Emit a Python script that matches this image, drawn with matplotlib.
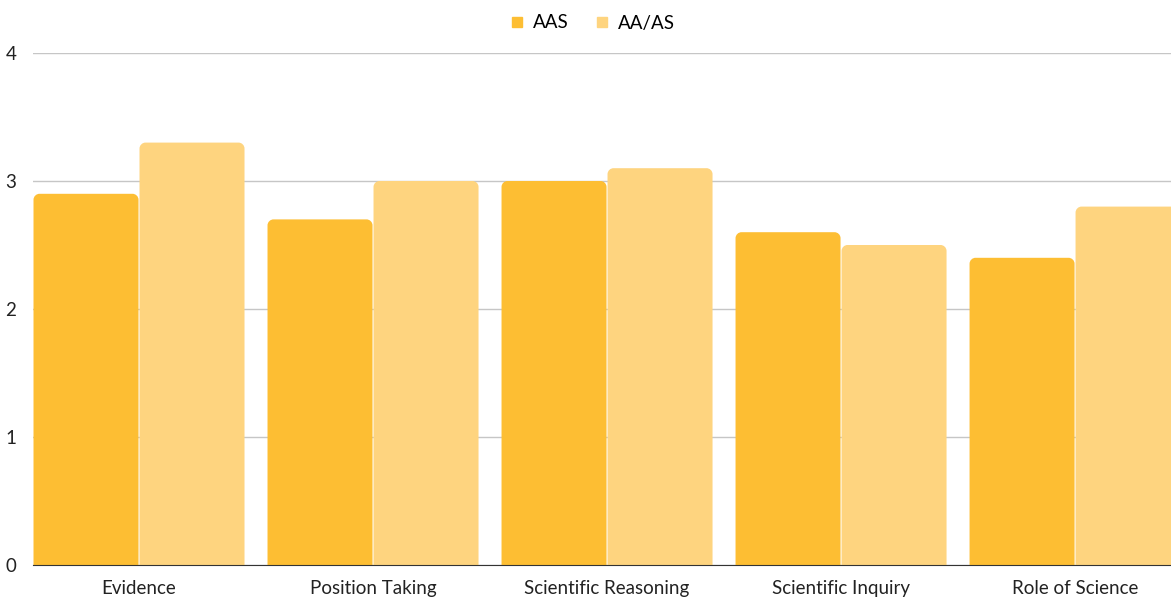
import matplotlib.pyplot as plt
import numpy as np
from matplotlib.path import Path
from matplotlib.patches import PathPatch
from matplotlib.lines import Line2D

plt.rcParams['font.family'] = ['Lato', 'DejaVu Sans']

categories = ['Evidence', 'Position Taking', 'Scientific Reasoning',
              'Scientific Inquiry', 'Role of Science']
series_names = ['AAS', 'AA/AS']
aas = [2.9, 2.7, 3.0, 2.6, 2.4]
aa_as = [3.3, 3.0, 3.1, 2.5, 2.8]
colors = ['#FDBE33', '#FED47F']


def rounded_top(x0, y0, w, h, rx, ry):
    # rectangle with the two top corners rounded (cubic bezier)
    k = 0.5523
    rx = min(rx, w / 2)
    ry = min(ry, h)
    verts = [
        (x0, y0), (x0, y0 + h - ry),
        (x0, y0 + h - ry + k * ry), (x0 + rx - k * rx, y0 + h), (x0 + rx, y0 + h),
        (x0 + w - rx, y0 + h),
        (x0 + w - rx + k * rx, y0 + h), (x0 + w, y0 + h - ry + k * ry), (x0 + w, y0 + h - ry),
        (x0 + w, y0), (x0, y0),
    ]
    codes = [Path.MOVETO, Path.LINETO,
             Path.CURVE4, Path.CURVE4, Path.CURVE4,
             Path.LINETO,
             Path.CURVE4, Path.CURVE4, Path.CURVE4,
             Path.LINETO, Path.CLOSEPOLY]
    return Path(verts, codes)


fig = plt.figure(figsize=(11.71, 5.97), dpi=100)
ax = fig.add_axes([33 / 1171, 32 / 597, 1 - 33 / 1171, (565 - 53) / 597])

x = np.arange(len(categories))
w = 105 / 234
off = 106 / 234 / 2
ax.set_xlim(-0.453, 4.41)
ax.set_ylim(0, 4)

for vals, dx, c in [(aas, -off, colors[0]), (aa_as, off, colors[1])]:
    bars = ax.bar(x + dx, vals, width=w, color=c)
    for b in bars:
        b.set_visible(False)
        p = rounded_top(b.get_x(), b.get_y(), b.get_width(), b.get_height(),
                        6 / 234, 6 / 128)
        ax.add_patch(PathPatch(p, facecolor=c, edgecolor='none', zorder=2))

ax.set_yticks([0, 1, 2, 3, 4])
ax.yaxis.grid(True, color='#C6C6C6', linewidth=1)
ax.set_axisbelow(True)
ax.set_xticks(x)
ax.set_xticklabels(categories)
ax.tick_params(axis='both', length=0, labelsize=13.5, colors='#222222')
ax.tick_params(axis='x', pad=11)
ax.tick_params(axis='y', pad=12)
for s in ['top', 'right', 'left']:
    ax.spines[s].set_visible(False)
ax.spines['bottom'].set_color('#333333')
ax.spines['bottom'].set_zorder(3)

handles = [Line2D([], [], marker='s', linestyle='none', markersize=7,
                  color=c) for c in colors]
fig.legend(handles, series_names, loc='center', bbox_to_anchor=(0.505, 1 - 23 / 597),
           ncol=2, frameon=False, fontsize=13.5, handletextpad=0.35,
           columnspacing=1.3, handlelength=1.0)

fig.savefig('out.png', dpi=100)
